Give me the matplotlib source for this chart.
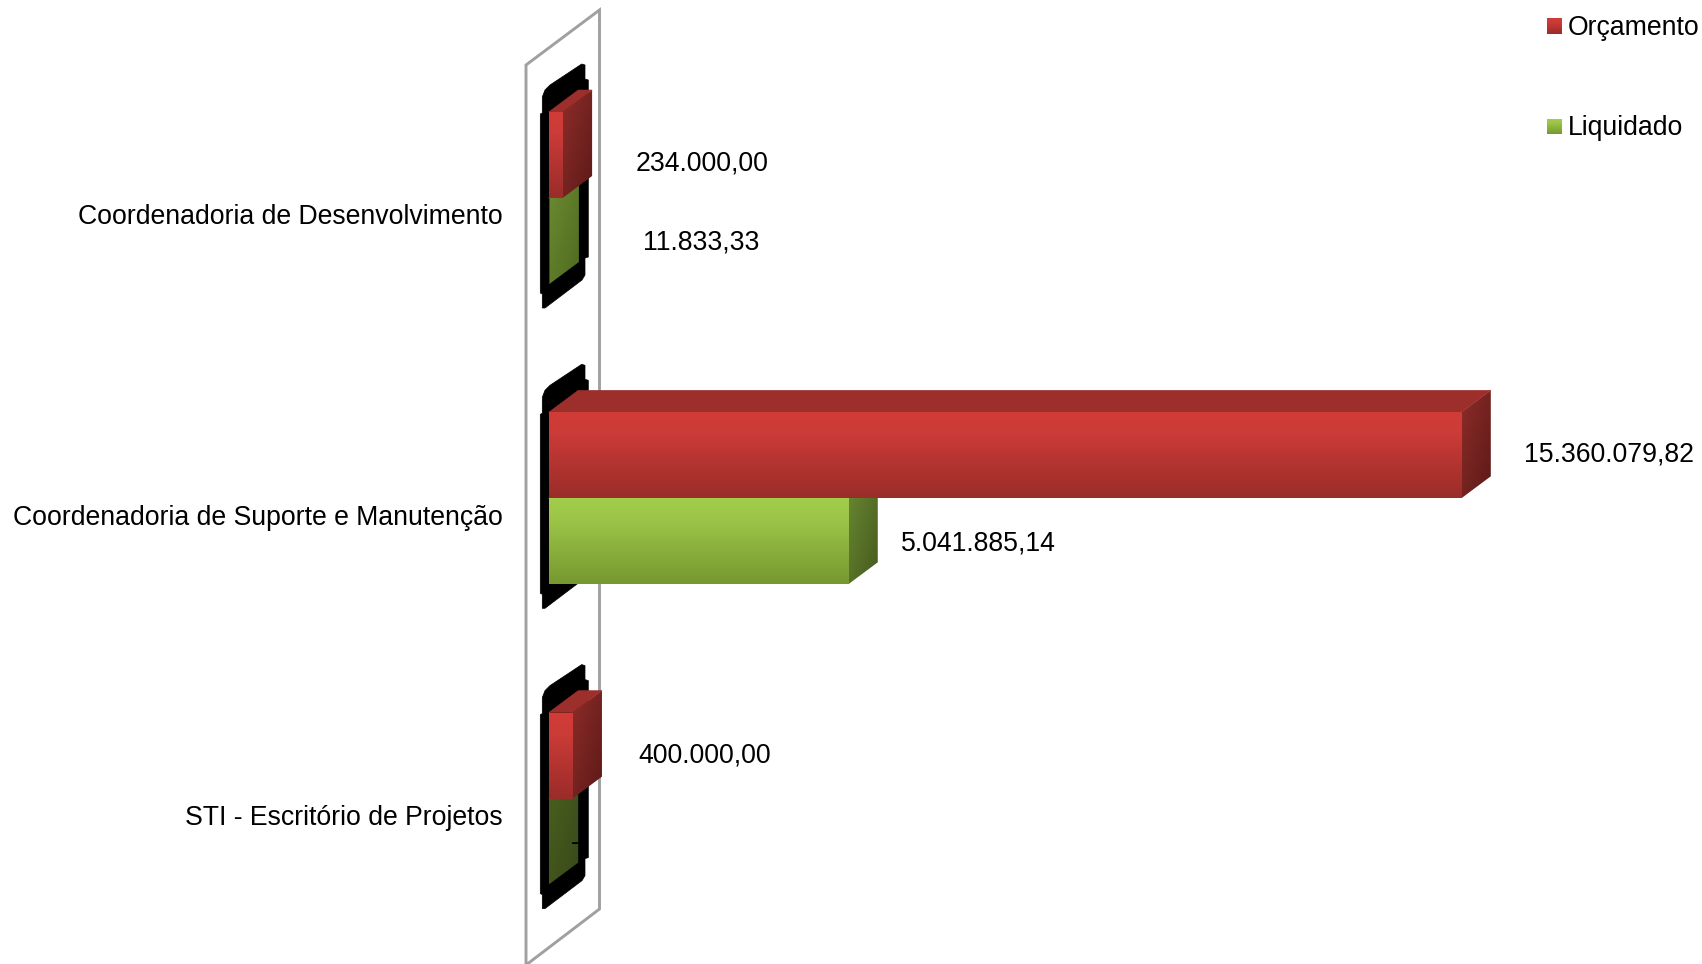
import numpy as np
import matplotlib
matplotlib.use('Agg')
import matplotlib.pyplot as plt
from matplotlib.colors import LinearSegmentedColormap
from matplotlib.patches import Polygon

plt.rcParams['font.family'] = ['Liberation Sans', 'DejaVu Sans']

categories = ['Coordenadoria de Desenvolvimento',
              'Coordenadoria de Suporte e Manutenção',
              'STI - Escritório de Projetos']
orcamento = [234000.00, 15360079.82, 400000.00]
liquidado = [11833.33, 5041885.14, 0.0]
orcamento_labels = ['234.000,00', '15.360.079,82', '400.000,00']
liquidado_labels = ['11.833,33', '5.041.885,14', '-']
series_names = ['Orçamento', 'Liquidado']

# layout measured in pixels of the 1702x964 picture
W, H = 1702, 964
X0_PX = 548.7
PX_PER_UNIT = 912.6 / 15360079.82
Y0_PX = 198.0
GROUP_PX = 300.3
BAR_H = 86 / GROUP_PX
DEPTH_X = 29.5 / PX_PER_UNIT
DEPTH_Y = 22 / GROUP_PX


def xv(px):
    return (px - X0_PX) / PX_PER_UNIT


def yv(px):
    return (px - Y0_PX) / GROUP_PX


fig = plt.figure(figsize=(W / 100, H / 100), dpi=100)
ax = fig.add_axes([0, 0, 1, 1])
ax.axis('off')

red_front = LinearSegmentedColormap.from_list('rf', [(0, '#d23c38'), (0.25, '#cb3b37'), (1, '#9a2c2a')])
green_front = LinearSegmentedColormap.from_list('gf', [(0, '#a2ce4b'), (0.25, '#9cc548'), (1, '#779830')])
red_side = LinearSegmentedColormap.from_list('rs', ['#8e2c29', '#5c1a18'])
green_sides = [LinearSegmentedColormap.from_list('g0', ['#6d8c33', '#4f6a20']),
               LinearSegmentedColormap.from_list('g1', ['#6a8a32', '#465a1e']),
               LinearSegmentedColormap.from_list('g2', ['#49601f', '#39491a'])]
vert = np.linspace(0, 1, 128).reshape(-1, 1)
uu, vv = np.meshgrid(np.linspace(0, 1, 64), np.linspace(0, 1, 64))
diag = (uu + vv) / 2

# side wall of the 3D chart
wall = [(526, 65), (599.5, 10), (599.5, 909), (526, 965)]
ax.add_patch(Polygon([(xv(a), yv(b)) for a, b in wall], closed=True, facecolor='white',
                     edgecolor='#a0a0a0', linewidth=2.1, zorder=1))

# black shadow behind each group (Excel rendering artefact), offsets from group centre
blob_x = [542.3, 545, 550, 581.7, 585, 585, 588.3, 588.3, 585, 585, 582, 545, 542.3, 542.3, 540.3, 540.3, 542.3]
blob_y = [-101, -108, -113, -134, -133, -119, -118, 59, 60, 77, 82, 110, 110, 96, 95, -84, -85]
for i in range(len(categories)):
    ax.add_patch(Polygon([(xv(a), i + b / GROUP_PX) for a, b in zip(blob_x, blob_y)],
                         closed=True, facecolor='black', edgecolor='black', linewidth=0.5, zorder=2))


def draw_box(bar, front_cmap, side_cmap, top_color, z):
    x1 = bar.get_width()
    y_top = bar.get_y()
    y_bot = y_top + bar.get_height()
    if x1 * PX_PER_UNIT > 2:
        ax.imshow(vert, cmap=front_cmap, extent=[0, x1, y_bot, y_top], aspect='auto', zorder=z + 0.2)
    side = Polygon([(x1, y_top), (x1 + DEPTH_X, y_top - DEPTH_Y),
                    (x1 + DEPTH_X, y_bot - DEPTH_Y), (x1, y_bot)], closed=True,
                   facecolor='none', edgecolor='none', zorder=z)
    ax.add_patch(side)
    im = ax.imshow(diag, cmap=side_cmap, aspect='auto', zorder=z + 0.1,
                   extent=[x1, x1 + DEPTH_X, y_bot, y_top - DEPTH_Y])
    im.set_clip_path(side)
    ax.add_patch(Polygon([(0, y_top), (DEPTH_X, y_top - DEPTH_Y),
                          (x1 + DEPTH_X, y_top - DEPTH_Y), (x1, y_top)], closed=True,
                         facecolor=top_color, edgecolor=top_color, linewidth=0.4, zorder=z + 0.1))


pos = np.arange(len(categories))
green_bars = ax.barh(pos + BAR_H / 2, liquidado, height=BAR_H, color='#8fb33f', zorder=3)
red_bars = ax.barh(pos - BAR_H / 2, orcamento, height=BAR_H, color='#b5332f', zorder=5)
for i, b in enumerate(green_bars):
    draw_box(b, green_front, green_sides[i], '#6f8f33', 3)
for b in red_bars:
    draw_box(b, red_front, red_side, '#9c2e2b', 5)

# text
FS = 19.15
for i, c in enumerate(categories):
    ax.text(xv(503), i + yv(217.5), c, ha='right', va='center', fontsize=FS, color='black', zorder=8)

orc_label_px = [(702.5, 164), (1609, 455), (704.5, 755)]
liq_label_px = [(701, 243), (978, 544), (575, 843)]
for txt, (a, b) in zip(orcamento_labels + liquidado_labels, orc_label_px + liq_label_px):
    ax.text(xv(a), yv(b), txt, ha='center', va='center', fontsize=FS, color='black', zorder=8)

# legend
legend_y = [26.5, 127]
for name, cmap, ly in zip(series_names, [red_front, green_front], legend_y):
    ax.imshow(vert, cmap=cmap, aspect='auto', zorder=8,
              extent=[xv(1547), xv(1562), yv(ly + 7.5), yv(ly - 7.5)])
    ax.text(xv(1568), yv(ly + 1.5), name, ha='left', va='center', fontsize=FS, color='black', zorder=8)

ax.set_xlim(xv(0), xv(W))
ax.set_ylim(yv(H), yv(0))

fig.savefig('out.png', dpi=100, facecolor='white')
